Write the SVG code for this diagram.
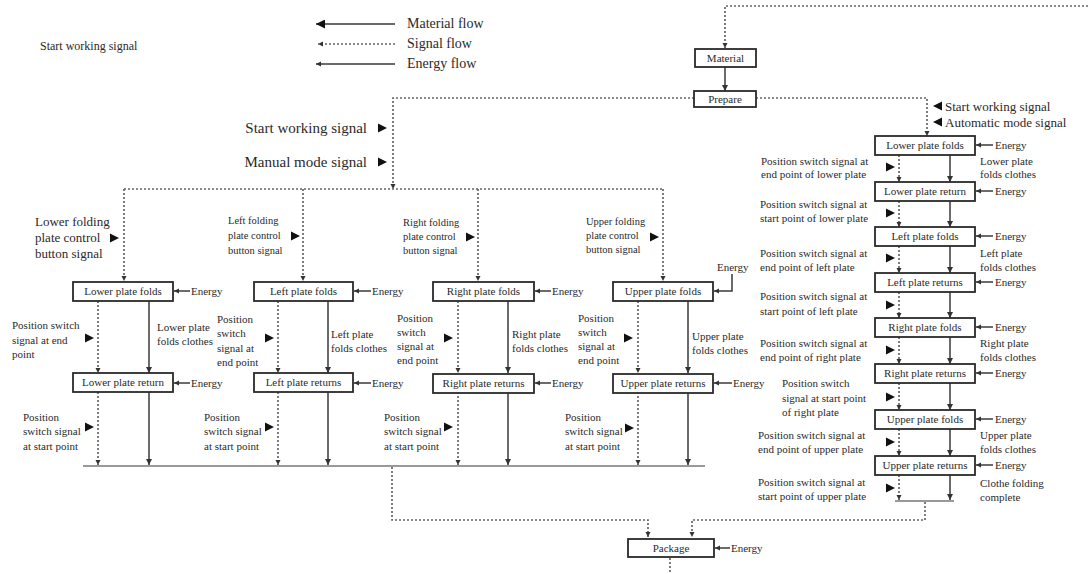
<svg xmlns="http://www.w3.org/2000/svg" width="1088" height="574" viewBox="0 0 1088 574">
<style>
.box{fill:#fff;stroke:#2a2a2a;stroke-width:1.8}
.sol{stroke:#3a3a3a;stroke-width:1.5;fill:none}
.dot{stroke:#666;stroke-width:1.7;stroke-dasharray:2 2;fill:none}
.bus{stroke:#999;stroke-width:2;fill:none}
.t{font-family:"Liberation Serif","Times New Roman",serif;font-size:11px;fill:#2a2a2a}
.bt{font-family:"Liberation Serif","Times New Roman",serif;font-size:11px;fill:#2a2a2a;text-anchor:middle}
.lg{font-family:"Liberation Serif","Times New Roman",serif;font-size:14px;fill:#2a2a2a}
.tri{fill:#111}
</style>
<defs>
<marker id="ah" viewBox="0 0 10 10" refX="10" refY="5" markerWidth="6" markerHeight="6" markerUnits="userSpaceOnUse" orient="auto"><path d="M0,0 L10,5 L0,10 Z" fill="#333"/></marker>
<marker id="ahL" viewBox="0 0 10 10" refX="10" refY="5" markerWidth="9" markerHeight="9" markerUnits="userSpaceOnUse" orient="auto"><path d="M0,0 L10,5 L0,10 Z" fill="#111"/></marker>
<marker id="ahS" viewBox="0 0 10 10" refX="10" refY="5" markerWidth="5" markerHeight="6" markerUnits="userSpaceOnUse" orient="auto"><path d="M0,0 L10,5 L0,10 Z" fill="#333"/></marker>
<path id="tr" d="M0,-4.5 L9,0 L0,4.5 Z"/>
<path id="tl" d="M9,-4.5 L0,0 L9,4.5 Z"/>
</defs>

<g id="legend">
<line class="sol" x1="395" y1="24" x2="316" y2="24" marker-end="url(#ahL)"/>
<text class="lg" x="407" y="28">Material flow</text>
<line class="dot" x1="395" y1="44" x2="318" y2="44" marker-end="url(#ahS)"/>
<text class="lg" x="407" y="48">Signal flow</text>
<line class="sol" x1="395" y1="64" x2="316" y2="64" marker-end="url(#ahS)"/>
<text class="lg" x="407" y="68">Energy flow</text>
<text class="t" x="40" y="50" style="font-size:12px">Start working signal</text>
</g>

<g id="connectors">
<path class="dot" d="M1088,6 H725 V48" marker-end="url(#ahS)"/>
<line class="sol" x1="725" y1="67" x2="725" y2="91" marker-end="url(#ah)"/>
<path class="dot" d="M756,98 H927 V136" marker-end="url(#ahS)"/>
<path class="dot" d="M694,98 H393 V189" marker-end="url(#ahS)"/>
<path class="dot" d="M124,189 H663"/>
<path class="dot" d="M124,189 V281" marker-end="url(#ahS)"/>
<path class="dot" d="M303,189 V281" marker-end="url(#ahS)"/>
<path class="dot" d="M478,189 V281" marker-end="url(#ahS)"/>
<path class="dot" d="M663,189 V281" marker-end="url(#ahS)"/>
<line class="dot" x1="98" y1="301" x2="98" y2="373" marker-end="url(#ahS)"/>
<line class="sol" x1="149" y1="301" x2="149" y2="373" marker-end="url(#ah)"/>
<line class="dot" x1="98" y1="392" x2="98" y2="465" marker-end="url(#ahS)"/>
<line class="sol" x1="149" y1="392" x2="149" y2="465" marker-end="url(#ah)"/>
<line class="dot" x1="278" y1="301" x2="278" y2="373" marker-end="url(#ahS)"/>
<line class="sol" x1="328" y1="301" x2="328" y2="373" marker-end="url(#ah)"/>
<line class="dot" x1="278" y1="392" x2="278" y2="465" marker-end="url(#ahS)"/>
<line class="sol" x1="328" y1="392" x2="328" y2="465" marker-end="url(#ah)"/>
<line class="dot" x1="458" y1="301" x2="458" y2="373" marker-end="url(#ahS)"/>
<line class="sol" x1="508" y1="301" x2="508" y2="373" marker-end="url(#ah)"/>
<line class="dot" x1="458" y1="392" x2="458" y2="465" marker-end="url(#ahS)"/>
<line class="sol" x1="508" y1="392" x2="508" y2="465" marker-end="url(#ah)"/>
<line class="dot" x1="638" y1="301" x2="638" y2="373" marker-end="url(#ahS)"/>
<line class="sol" x1="688" y1="301" x2="688" y2="373" marker-end="url(#ah)"/>
<line class="dot" x1="638" y1="392" x2="638" y2="465" marker-end="url(#ahS)"/>
<line class="sol" x1="688" y1="392" x2="688" y2="465" marker-end="url(#ah)"/>
<line class="bus" x1="83" y1="466" x2="705" y2="466"/>
<line class="sol" x1="190" y1="291" x2="174" y2="291" marker-end="url(#ahS)"/>
<line class="sol" x1="190" y1="383" x2="174" y2="383" marker-end="url(#ahS)"/>
<line class="sol" x1="371" y1="291" x2="354" y2="291" marker-end="url(#ahS)"/>
<line class="sol" x1="371" y1="383" x2="354" y2="383" marker-end="url(#ahS)"/>
<line class="sol" x1="551" y1="291" x2="535" y2="291" marker-end="url(#ahS)"/>
<line class="sol" x1="551" y1="383" x2="535" y2="383" marker-end="url(#ahS)"/>
<path class="sol" d="M732,274 V291 H714" marker-end="url(#ahS)"/>
<line class="sol" x1="732" y1="383" x2="714" y2="383" marker-end="url(#ahS)"/>
<line class="dot" x1="899" y1="155" x2="899" y2="182" marker-end="url(#ahS)"/>
<line class="sol" x1="950" y1="155" x2="950" y2="182" marker-end="url(#ah)"/>
<line class="dot" x1="899" y1="201" x2="899" y2="227" marker-end="url(#ahS)"/>
<line class="sol" x1="950" y1="201" x2="950" y2="227" marker-end="url(#ah)"/>
<line class="dot" x1="899" y1="246" x2="899" y2="273" marker-end="url(#ahS)"/>
<line class="sol" x1="950" y1="246" x2="950" y2="273" marker-end="url(#ah)"/>
<line class="dot" x1="899" y1="292" x2="899" y2="318" marker-end="url(#ahS)"/>
<line class="sol" x1="950" y1="292" x2="950" y2="318" marker-end="url(#ah)"/>
<line class="dot" x1="899" y1="337" x2="899" y2="364" marker-end="url(#ahS)"/>
<line class="sol" x1="950" y1="337" x2="950" y2="364" marker-end="url(#ah)"/>
<line class="dot" x1="899" y1="383" x2="899" y2="410" marker-end="url(#ahS)"/>
<line class="sol" x1="950" y1="383" x2="950" y2="410" marker-end="url(#ah)"/>
<line class="dot" x1="899" y1="429" x2="899" y2="456" marker-end="url(#ahS)"/>
<line class="sol" x1="950" y1="429" x2="950" y2="456" marker-end="url(#ah)"/>
<line class="dot" x1="899" y1="475" x2="899" y2="500" marker-end="url(#ahS)"/>
<line class="sol" x1="950" y1="475" x2="950" y2="500" marker-end="url(#ah)"/>
<line class="bus" x1="895" y1="501" x2="954" y2="501"/>
<line class="sol" x1="993" y1="145" x2="976" y2="145" marker-end="url(#ahS)"/>
<line class="sol" x1="993" y1="191" x2="976" y2="191" marker-end="url(#ahS)"/>
<line class="sol" x1="993" y1="236" x2="976" y2="236" marker-end="url(#ahS)"/>
<line class="sol" x1="993" y1="282" x2="976" y2="282" marker-end="url(#ahS)"/>
<line class="sol" x1="993" y1="327" x2="976" y2="327" marker-end="url(#ahS)"/>
<line class="sol" x1="993" y1="373" x2="976" y2="373" marker-end="url(#ahS)"/>
<line class="sol" x1="993" y1="419" x2="976" y2="419" marker-end="url(#ahS)"/>
<line class="sol" x1="993" y1="465" x2="976" y2="465" marker-end="url(#ahS)"/>
<path class="dot" d="M392,467 V520 H648 V537" marker-end="url(#ahS)"/>
<path class="dot" d="M925,502 V520 H692 V537" marker-end="url(#ahS)"/>
<line class="sol" x1="730" y1="548" x2="715" y2="548" marker-end="url(#ahS)"/>
<line class="dot" x1="670" y1="558" x2="670" y2="574"/>
</g>

<g id="signal-labels">
<text class="lg" x="367" y="133" text-anchor="end" style="font-size:15px">Start working signal</text>
<use href="#tr" class="tri" x="378" y="128"/>
<text class="lg" x="367" y="167" text-anchor="end" style="font-size:15px">Manual mode signal</text>
<use href="#tr" class="tri" x="378" y="162"/>
<use href="#tl" class="tri" x="933" y="106"/>
<text class="t" x="945" y="111" style="font-size:13px">Start working signal</text>
<use href="#tl" class="tri" x="933" y="122"/>
<text class="t" x="945" y="127" style="font-size:13px">Automatic mode signal</text>
</g>

<g id="node-material"><rect class="box" x="695" y="49" width="61" height="18"/><text class="bt" x="725.5" y="62">Material</text></g>
<g id="node-prepare"><rect class="box" x="694" y="91" width="62" height="16"/><text class="bt" x="725" y="103">Prepare</text></g>

<g id="col-lower">
<text class="t" style="font-size:13px"><tspan x="35" y="226">Lower folding</tspan><tspan x="35" y="242">plate control</tspan><tspan x="35" y="258">button signal</tspan></text>
<use href="#tr" class="tri" x="110" y="238"/>
<g id="m-lower-folds"><rect class="box" x="73" y="282" width="100" height="19"/><text class="bt" x="123" y="295">Lower plate folds</text></g>
<text class="t" x="191" y="295">Energy</text>
<text class="t"><tspan x="12" y="329">Position switch</tspan><tspan x="12" y="344">signal at end</tspan><tspan x="12" y="358">point</tspan></text>
<use href="#tr" class="tri" x="85" y="338"/>
<text class="t"><tspan x="157" y="331">Lower plate</tspan><tspan x="157" y="345">folds clothes</tspan></text>
<g id="m-lower-return"><rect class="box" x="73" y="373" width="100" height="19"/><text class="bt" x="123" y="386">Lower plate return</text></g>
<text class="t" x="191" y="387">Energy</text>
<text class="t"><tspan x="23" y="421">Position</tspan><tspan x="23" y="435">switch signal</tspan><tspan x="23" y="450">at start point</tspan></text>
<use href="#tr" class="tri" x="85" y="427"/>
</g>

<g id="col-left">
<text class="t" style="font-size:10.5px"><tspan x="228" y="224">Left folding</tspan><tspan x="228" y="239">plate control</tspan><tspan x="228" y="254">button signal</tspan></text>
<use href="#tr" class="tri" x="291" y="236"/>
<g id="m-left-folds"><rect class="box" x="254" y="282" width="99" height="19"/><text class="bt" x="303.5" y="295">Left plate folds</text></g>
<text class="t" x="372" y="295">Energy</text>
<text class="t"><tspan x="217" y="323">Position</tspan><tspan x="217" y="337">switch</tspan><tspan x="217" y="352">signal at</tspan><tspan x="217" y="366">end point</tspan></text>
<use href="#tr" class="tri" x="265" y="338"/>
<text class="t"><tspan x="331" y="338">Left plate</tspan><tspan x="331" y="352">folds clothes</tspan></text>
<g id="m-left-returns"><rect class="box" x="254" y="373" width="99" height="19"/><text class="bt" x="303.5" y="386">Left plate returns</text></g>
<text class="t" x="372" y="387">Energy</text>
<text class="t"><tspan x="204" y="421">Position</tspan><tspan x="204" y="435">switch signal</tspan><tspan x="204" y="450">at start point</tspan></text>
<use href="#tr" class="tri" x="265" y="427"/>
</g>

<g id="col-right">
<text class="t" style="font-size:10.5px"><tspan x="403" y="226">Right folding</tspan><tspan x="403" y="240">plate control</tspan><tspan x="403" y="254">button signal</tspan></text>
<use href="#tr" class="tri" x="466" y="237"/>
<g id="m-right-folds"><rect class="box" x="433" y="282" width="101" height="19"/><text class="bt" x="483.5" y="295">Right plate folds</text></g>
<text class="t" x="552" y="295">Energy</text>
<text class="t"><tspan x="397" y="322">Position</tspan><tspan x="397" y="336">switch</tspan><tspan x="397" y="350">signal at</tspan><tspan x="397" y="364">end point</tspan></text>
<use href="#tr" class="tri" x="444" y="338"/>
<text class="t"><tspan x="512" y="338">Right plate</tspan><tspan x="512" y="352">folds clothes</tspan></text>
<g id="m-right-returns"><rect class="box" x="433" y="374" width="101" height="19"/><text class="bt" x="483.5" y="387">Right plate returns</text></g>
<text class="t" x="552" y="387">Energy</text>
<text class="t"><tspan x="384" y="421">Position</tspan><tspan x="384" y="435">switch signal</tspan><tspan x="384" y="450">at start point</tspan></text>
<use href="#tr" class="tri" x="444" y="427"/>
</g>

<g id="col-upper">
<text class="t" style="font-size:10.5px"><tspan x="586" y="225">Upper folding</tspan><tspan x="586" y="239">plate control</tspan><tspan x="586" y="253">button signal</tspan></text>
<use href="#tr" class="tri" x="650" y="237"/>
<g id="m-upper-folds"><rect class="box" x="613" y="282" width="100" height="19"/><text class="bt" x="663" y="295">Upper plate folds</text></g>
<text class="t" x="717" y="271">Energy</text>
<text class="t"><tspan x="578" y="322">Position</tspan><tspan x="578" y="336">switch</tspan><tspan x="578" y="350">signal at</tspan><tspan x="578" y="364">end point</tspan></text>
<use href="#tr" class="tri" x="624" y="338"/>
<text class="t"><tspan x="692" y="340">Upper plate</tspan><tspan x="692" y="354">folds clothes</tspan></text>
<g id="m-upper-returns"><rect class="box" x="613" y="374" width="100" height="19"/><text class="bt" x="663" y="387">Upper plate returns</text></g>
<text class="t" x="733" y="387">Energy</text>
<text class="t"><tspan x="565" y="421">Position</tspan><tspan x="565" y="435">switch signal</tspan><tspan x="565" y="450">at start point</tspan></text>
<use href="#tr" class="tri" x="625" y="428"/>
</g>

<g id="auto-column">
<g id="a-lower-folds"><rect class="box" x="875" y="136" width="100" height="19"/><text class="bt" x="925" y="149">Lower plate folds</text></g>
<g id="a-lower-return"><rect class="box" x="875" y="182" width="100" height="19"/><text class="bt" x="925" y="195">Lower plate return</text></g>
<g id="a-left-folds"><rect class="box" x="875" y="227" width="100" height="19"/><text class="bt" x="925" y="240">Left plate folds</text></g>
<g id="a-left-returns"><rect class="box" x="875" y="273" width="100" height="19"/><text class="bt" x="925" y="286">Left plate returns</text></g>
<g id="a-right-folds"><rect class="box" x="875" y="318" width="100" height="19"/><text class="bt" x="925" y="331">Right plate folds</text></g>
<g id="a-right-returns"><rect class="box" x="875" y="364" width="100" height="19"/><text class="bt" x="925" y="377">Right plate returns</text></g>
<g id="a-upper-folds"><rect class="box" x="875" y="410" width="100" height="19"/><text class="bt" x="925" y="423">Upper plate folds</text></g>
<g id="a-upper-returns"><rect class="box" x="875" y="456" width="100" height="19"/><text class="bt" x="925" y="469">Upper plate returns</text></g>
<text class="t" x="995" y="149">Energy</text>
<text class="t" x="995" y="195">Energy</text>
<text class="t" x="995" y="240">Energy</text>
<text class="t" x="995" y="286">Energy</text>
<text class="t" x="995" y="331">Energy</text>
<text class="t" x="995" y="377">Energy</text>
<text class="t" x="995" y="423">Energy</text>
<text class="t" x="995" y="469">Energy</text>
<text class="t"><tspan x="980" y="165">Lower plate</tspan><tspan x="980" y="178">folds clothes</tspan></text>
<text class="t"><tspan x="980" y="257">Left plate</tspan><tspan x="980" y="271">folds clothes</tspan></text>
<text class="t"><tspan x="980" y="347">Right plate</tspan><tspan x="980" y="361">folds clothes</tspan></text>
<text class="t"><tspan x="980" y="439">Upper plate</tspan><tspan x="980" y="453">folds clothes</tspan></text>
<text class="t"><tspan x="980" y="487">Clothe folding</tspan><tspan x="980" y="501">complete</tspan></text>
<text class="t"><tspan x="761" y="165">Position switch signal at</tspan><tspan x="761" y="178">end point of lower plate</tspan></text>
<use href="#tr" class="tri" x="886" y="167"/>
<text class="t"><tspan x="760" y="208">Position switch signal at</tspan><tspan x="760" y="222">start point of lower plate</tspan></text>
<use href="#tr" class="tri" x="886" y="213"/>
<text class="t"><tspan x="760" y="257">Position switch signal at</tspan><tspan x="760" y="271">end point of left plate</tspan></text>
<use href="#tr" class="tri" x="886" y="258"/>
<text class="t"><tspan x="760" y="300">Position switch signal at</tspan><tspan x="760" y="315">start point of left plate</tspan></text>
<use href="#tr" class="tri" x="886" y="305"/>
<text class="t"><tspan x="760" y="347">Position switch signal at</tspan><tspan x="760" y="361">end point of right plate</tspan></text>
<use href="#tr" class="tri" x="886" y="350"/>
<text class="t"><tspan x="782" y="387">Position switch</tspan><tspan x="782" y="402">signal at start point</tspan><tspan x="782" y="416">of right plate</tspan></text>
<use href="#tr" class="tri" x="886" y="397"/>
<text class="t"><tspan x="758" y="439">Position switch signal at</tspan><tspan x="758" y="453">end point of upper plate</tspan></text>
<use href="#tr" class="tri" x="886" y="442"/>
<text class="t"><tspan x="758" y="486">Position switch signal at</tspan><tspan x="758" y="500">start point of upper plate</tspan></text>
<use href="#tr" class="tri" x="886" y="488"/>
</g>

<g id="node-package"><rect class="box" x="628" y="539" width="86" height="18"/><text class="bt" x="671" y="552">Package</text><text class="t" x="731" y="552">Energy</text></g>
</svg>
